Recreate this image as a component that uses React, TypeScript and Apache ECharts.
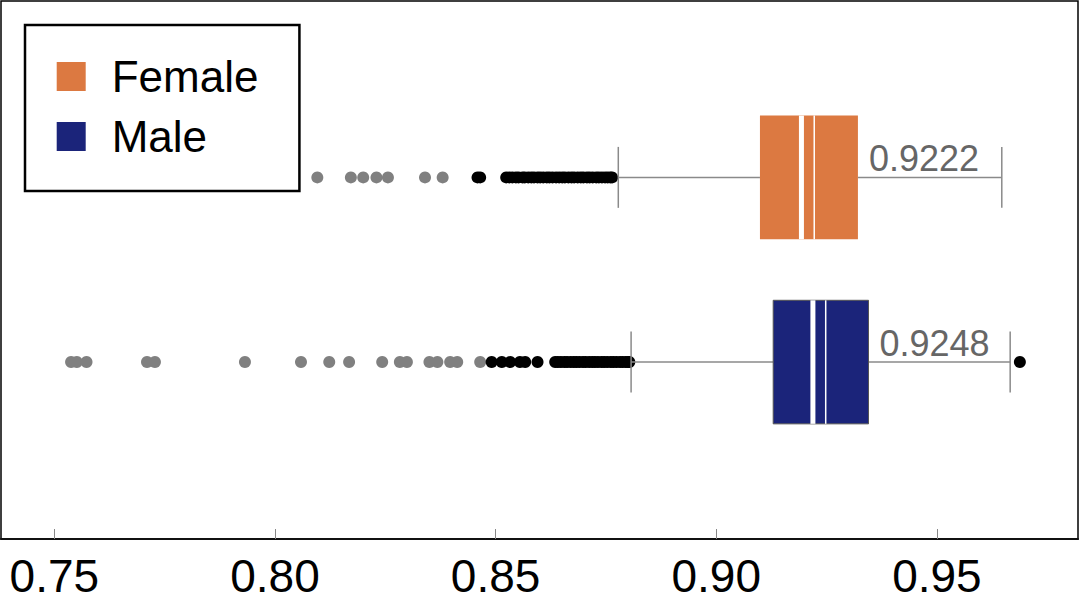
import React, { useEffect, useRef } from "react";
import * as echarts from "echarts";

// ---- data ----
const categories = ["Female", "Male"];
const categoryPos = [1, 2];
const seriesColors = ["#dc7941", "#1b247a"];

const lowWhisker = [0.8778, 0.8807];
const q1 = [0.9099, 0.9129];
const median = [0.9222, 0.9248];
const q3 = [0.9321, 0.9345];
const highWhisker = [0.9647, 0.9666];
const mean = [0.9193, 0.9219];

const femaleFarOutliers = [0.8096, 0.8172, 0.82, 0.823, 0.8256, 0.834, 0.838];
const femaleNearOutliers = [
  0.8459, 0.8465, 0.8524, 0.8531, 0.8538, 0.8546, 0.8552, 0.8561, 0.8566, 0.8574,
  0.8581, 0.8587, 0.8595, 0.8601, 0.8608, 0.8616, 0.8622, 0.8629, 0.8637, 0.8644,
  0.8651, 0.8657, 0.8665, 0.8672, 0.8678, 0.8686, 0.8693, 0.8699, 0.8707, 0.8713,
  0.8720, 0.8728, 0.8734, 0.8741, 0.8748, 0.8754, 0.876, 0.8764,
];
const maleFarOutliers = [
  0.7538, 0.7551, 0.7573, 0.771, 0.7728, 0.7932, 0.8059, 0.8123, 0.8168, 0.8243,
  0.8283, 0.8299, 0.835, 0.8368, 0.8397, 0.8413, 0.8465,
];
const maleNearOutliers = [
  0.8491, 0.8514, 0.8533, 0.8555, 0.8567, 0.8595, 0.8635, 0.8641, 0.8648, 0.8656,
  0.8662, 0.867, 0.8677, 0.8683, 0.869, 0.8698, 0.8704, 0.8712, 0.8719, 0.8725,
  0.8732, 0.874, 0.8746, 0.8753, 0.8761, 0.8767, 0.8774, 0.8782, 0.8788, 0.8795,
  0.88, 0.8803, 0.9688,
];

const xMin = 0.73792;
const xMax = 0.98197;

const FONT = '"Liberation Sans", Arial, Helvetica, sans-serif';

function renderBox(params: any, api: any) {
  const pos = api.value(0);
  const low = api.coord([api.value(1), pos]);
  const q1p = api.coord([api.value(2), pos]);
  const med = api.coord([api.value(3), pos]);
  const q3p = api.coord([api.value(4), pos]);
  const high = api.coord([api.value(5), pos]);
  const mn = api.coord([api.value(6), pos]);
  const unit = api.size([0, 1])[1];
  const boxH = unit * 0.669;
  const capH = unit * 0.33;
  const y = low[1];
  const color = api.visual("color");
  const whisker = { stroke: "#8a8a8a", lineWidth: 1.5 };
  const isMale = params.seriesIndex === 1;
  return {
    type: "group",
    children: [
      { type: "line", shape: { x1: low[0], y1: y, x2: q1p[0], y2: y }, style: whisker },
      { type: "line", shape: { x1: q3p[0], y1: y, x2: high[0], y2: y }, style: whisker },
      { type: "line", shape: { x1: low[0], y1: y - capH / 2, x2: low[0], y2: y + capH / 2 }, style: whisker },
      { type: "line", shape: { x1: high[0], y1: y - capH / 2, x2: high[0], y2: y + capH / 2 }, style: whisker },
      {
        type: "rect",
        shape: { x: q1p[0], y: y - boxH / 2, width: q3p[0] - q1p[0], height: boxH },
        style: isMale ? { fill: color, stroke: "#555", lineWidth: 1 } : { fill: color },
      },
      {
        type: "line",
        shape: { x1: mn[0], y1: y - boxH / 2, x2: mn[0], y2: y + boxH / 2 },
        style: { stroke: "#ffffff", lineWidth: 5 },
      },
      {
        type: "line",
        shape: { x1: med[0], y1: y - boxH / 2, x2: med[0], y2: y + boxH / 2 },
        style: { stroke: "#ffffff", lineWidth: 1.5 },
      },
      {
        type: "text",
        x: q3p[0] + 11,
        y: y - 19,
        style: {
          text: Number(api.value(3)).toFixed(4),
          fill: "#666666",
          fontSize: 36,
          fontFamily: FONT,
          align: "left",
          verticalAlign: "middle",
        },
      },
    ],
  };
}

export default function App() {
  const ref = useRef<HTMLDivElement>(null);
  useEffect(() => {
    document.body.style.margin = "0";
    const chart = echarts.init(ref.current!, null, { renderer: "svg" });
    const boxSeries = categories.map((name, i) => ({
      name,
      type: "custom",
      renderItem: renderBox,
      itemStyle: { color: seriesColors[i] },
      data: [[categoryPos[i], lowWhisker[i], q1[i], median[i], q3[i], highWhisker[i], mean[i]]],
      encode: { x: [1, 2, 3, 4, 5, 6], y: 0 },
      z: 3,
    }));
    const scatter = (name: string, vals: number[], pos: number, color: string, z: number) => ({
      name,
      type: "scatter",
      symbol: "circle",
      symbolSize: 12,
      itemStyle: { color, opacity: 1 },
      data: vals.map((v) => [v, pos]),
      z,
    });
    chart.setOption({
      animation: false,
      textStyle: { fontFamily: FONT },
      grid: {
        left: 1,
        top: 1,
        right: 5,
        bottom: 65,
        show: true,
        borderColor: "#000",
        borderWidth: 1.5,
        backgroundColor: "#fff",
      },
      legend: {
        data: categories,
        orient: "vertical",
        left: 25,
        top: 25,
        icon: "rect",
        itemWidth: 29,
        itemHeight: 29,
        itemGap: 16,
        padding: [29.5, 41, 32.5, 31.7],
        borderColor: "#000",
        borderWidth: 2.5,
        backgroundColor: "#fff",
        selectedMode: false,
        textStyle: {
          fontSize: 44,
          color: "#000",
          fontFamily: FONT,
          padding: [0, 0, 0, 21],
        },
      },
      xAxis: {
        type: "value",
        min: xMin,
        max: xMax,
        splitLine: { show: false },
        axisLine: { show: true, lineStyle: { color: "#111", width: 2 } },
        axisTick: { show: true, inside: true, length: 10, lineStyle: { color: "#888", width: 1 } },
        axisLabel: {
          fontSize: 46,
          color: "#000",
          margin: 14,
          fontFamily: FONT,
          showMinLabel: false,
          showMaxLabel: false,
          formatter: (v: number) => v.toFixed(2),
        },
      },
      yAxis: {
        type: "value",
        min: 0.045,
        max: 2.958,
        inverse: true,
        show: false,
      },
      series: [
        ...boxSeries,
        scatter("Female far", femaleFarOutliers, categoryPos[0], "#808080", 2),
        scatter("Male far", maleFarOutliers, categoryPos[1], "#808080", 2),
        scatter("Female near", femaleNearOutliers, categoryPos[0], "#000000", 2),
        scatter("Male near", maleNearOutliers, categoryPos[1], "#000000", 2),
      ],
    });
    return () => chart.dispose();
  }, []);
  return <div ref={ref} style={{ width: 1083, height: 604 }} />;
}
